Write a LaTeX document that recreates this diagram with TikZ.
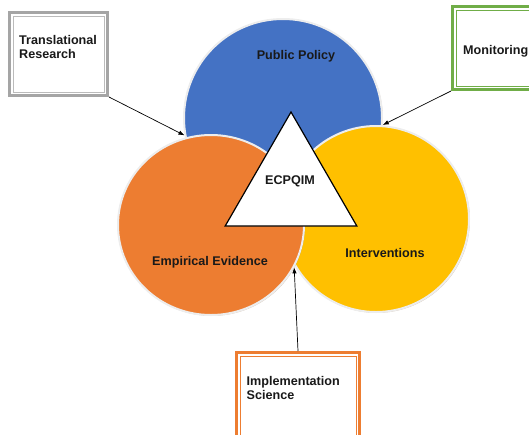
\documentclass[tikz,border=0pt]{standalone}
\usepackage{fontspec}
\setmainfont{Liberation Sans}
\usepackage{tikz}
\usetikzlibrary{positioning}
\usetikzlibrary{shapes.geometric,arrows.meta,shadows}
\definecolor{ppblue}{HTML}{4472C4}
\definecolor{eeorange}{HTML}{ED7D31}
\definecolor{ivyellow}{HTML}{FFC000}
\definecolor{mongreen}{HTML}{70AD47}
\definecolor{trgray}{HTML}{A5A5A5}
\tikzstyle{rim} = [line width=2pt, draw=black!7, inner sep=0pt, drop shadow={shadow xshift=0.9pt, shadow yshift=-0.9pt, fill=brown!70!black, opacity=0.35}]
\tikzstyle{pp} = [circle, minimum size=198pt, rim, fill=ppblue]
\tikzstyle{ee} = [ellipse, minimum width=186pt, minimum height=180pt, rim, fill=eeorange]
\tikzstyle{iv} = [circle, minimum size=186pt, rim, fill=ivyellow]
\tikzstyle{hub} = [regular polygon, regular polygon sides=3, minimum size=152pt, inner sep=0pt, line width=1.2pt, draw=black, fill=white]
\tikzstyle{txt} = [font=\bfseries\fontsize{12.6}{13.6}\selectfont, inner sep=0pt, align=left, text=black!90]
\tikzstyle{frame} = [rectangle, line width=3pt, inner sep=0pt, fill=white]
\tikzstyle{inframe} = [line width=1pt]
\tikzstyle{link} = [line width=0.7pt, -{Latex[length=6pt,width=4.5pt]}]

\begin{document}
\begin{tikzpicture}[x=1pt,y=-1pt]
    \useasboundingbox (0,0) rectangle (529,434);
    % the three fields
    \node (policy) [pp] at (283,118) {};
    \node (interv) [iv] at (376,219) {};
    \node (evidence) [ee] at (211,225) {};
    \node (core) [hub] at (291,188) {};
    \node (tPolicy) [txt, anchor=base] at (296,59.5) {Public Policy};
    \node (tEvidence) [txt, anchor=base] at (210,265) {Empirical Evidence};
    \node (tInterv) [txt, anchor=base] at (385,257) {Interventions};
    \node (tCore) [txt, anchor=base] at (290,184) {ECPQIM};
    % side boxes
    \node (trans) [frame, draw=trgray, minimum width=98pt, minimum height=83pt] at (58.5,54) {};
    \node (monit) [frame, draw=mongreen, minimum width=92.5pt, minimum height=83pt] at (498.75,48) {};
    \node (impl) [frame, draw=eeorange, minimum width=123pt, minimum height=97.5pt] at (298,401.25) {};
    \draw[inframe, draw=trgray!75] ([shift={(5pt,-5pt)}]trans.north west) rectangle ([shift={(-5pt,5pt)}]trans.south east);
    \draw[inframe, draw=mongreen] ([shift={(5pt,-5pt)}]monit.north west) rectangle ([shift={(-5pt,5pt)}]monit.south east);
    \draw[inframe, draw=eeorange] ([shift={(5pt,-5pt)}]impl.north west) rectangle ([shift={(-5pt,5pt)}]impl.south east);
    \node (tTrans) [txt, anchor=north west] at (19,35.5) {Translational\\Research};
    \node (tMonit) [txt, anchor=base west] at (463,54) {Monitoring};
    \node (tImpl) [txt, anchor=north west] at (246.5,376.5) {Implementation\\Science};
    % pointers
    \draw[link] (trans.south east) -- (policy.190);
    \draw[link] (monit.south west) -- (policy.-4);
    \draw[link] (impl.north) -- (evidence.-27);
\end{tikzpicture}
\end{document}
